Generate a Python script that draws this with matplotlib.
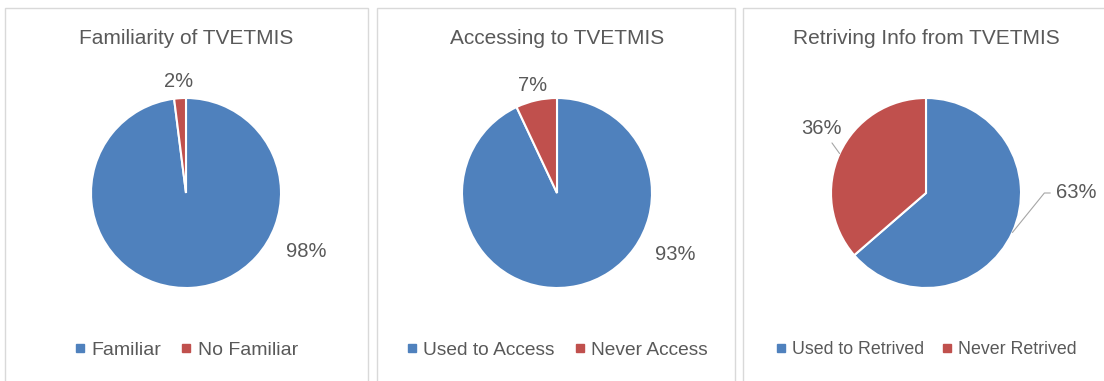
import numpy as np
import matplotlib.pyplot as plt
from matplotlib.lines import Line2D
from matplotlib.patches import Rectangle

plt.rcParams['font.family'] = ['Liberation Sans', 'DejaVu Sans']

# datos de las tres encuestas
titulos = ['Familiarity of TVETMIS', 'Accessing to TVETMIS', 'Retriving Info from TVETMIS']
categorias = [['Familiar', 'No Familiar'],
              ['Used to Access', 'Never Access'],
              ['Used to Retrived', 'Never Retrived']]
valores_1 = [98, 2]
valores_2 = [93, 7]
valores_3 = [63, 36]
valores = [valores_1, valores_2, valores_3]

AZUL = '#4F81BD'
ROJO = '#C0504D'
GRIS_TXT = '#595959'

W, H = 1104, 381
fig = plt.figure(figsize=(W / 100, H / 100), dpi=100)
fig.patch.set_facecolor('white')

def fx(x):
    return x / W

def fy(y):
    return 1 - y / H

# marcos de cada panel (px)
marcos = [(5, 368), (377, 735), (743, 1110)]
for x0, x1 in marcos:
    fig.patches.append(Rectangle((fx(x0), fy(390)), fx(x1 - x0), (390 - 8) / H,
                                 transform=fig.transFigure, fill=False,
                                 edgecolor='#D9D9D9', linewidth=1.0))

centros = [186, 557, 926]
cy = 193
radio = 95
medio = 170

# posiciones de las etiquetas en unidades del pastel (radio = 1)
pos_etiquetas = [[(1.27, -0.62), (-0.08, 1.17)],
                 [(1.25, -0.65), (-0.26, 1.13)],
                 [(1.58, 0.0), (-1.1, 0.68)]]
tam_leyenda = [14, 13.8, 12.8]
tam_etiqueta = 14.5

for i in range(3):
    cx = centros[i]
    ax = fig.add_axes([fx(cx - medio), fy(cy + medio), fx(2 * medio), 2 * medio / H])
    lim = medio / radio
    wedges, _ = ax.pie(valores[i], colors=[AZUL, ROJO], startangle=90, counterclock=False,
                       wedgeprops=dict(edgecolor='white', linewidth=1.5))
    ax.set_xlim(-lim, lim)
    ax.set_ylim(-lim, lim)
    ax.set_aspect('equal')
    ax.axis('off')

    for j, w in enumerate(wedges):
        tx, ty = pos_etiquetas[i][j]
        texto = f'{valores[i][j]}%'
        if i == 2:
            ang = np.deg2rad((w.theta1 + w.theta2) / 2)
            borde = (np.cos(ang), np.sin(ang))
            if j == 0:
                estilo = 'angle,angleA=0,angleB=51,rad=0'
            else:
                estilo = 'arc3,rad=0'
            ax.annotate(texto, xy=borde, xytext=(tx, ty), fontsize=tam_etiqueta,
                        color=GRIS_TXT, ha='center', va='center',
                        arrowprops=dict(arrowstyle='-', color='#A6A6A6', lw=0.8,
                                        shrinkA=2, shrinkB=0, connectionstyle=estilo))
        else:
            ax.text(tx, ty, texto, fontsize=tam_etiqueta, color=GRIS_TXT,
                    ha='center', va='center')

    fig.text(fx(cx), fy(39), titulos[i], fontsize=15, color=GRIS_TXT,
             ha='center', va='center')

    manejadores = [Line2D([], [], marker='s', linestyle='none', markersize=5.5,
                          markerfacecolor=c, markeredgecolor=c) for c in (AZUL, ROJO)]
    fig.legend(manejadores, categorias[i], loc='center', ncol=2,
               bbox_to_anchor=(fx(cx), fy(350)), frameon=False,
               fontsize=tam_leyenda[i], handlelength=0.6, handletextpad=0.3,
               columnspacing=1.0, labelcolor=GRIS_TXT)

plt.savefig('out.png', dpi=100, facecolor='white')
